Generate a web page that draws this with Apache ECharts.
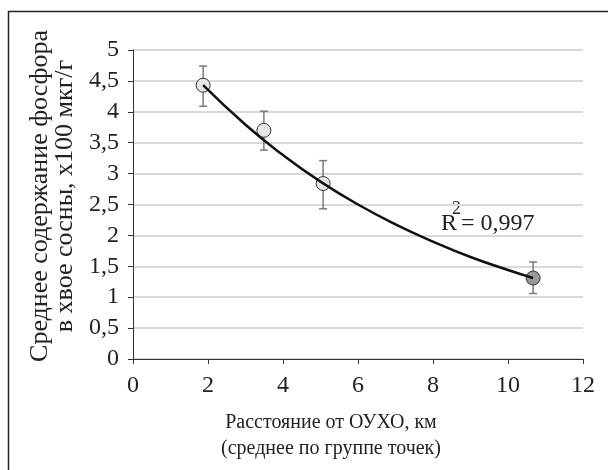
<!DOCTYPE html>
<html>
<head>
<meta charset="utf-8">
<script src="https://cdn.jsdelivr.net/npm/echarts@6/dist/echarts.min.js"></script>
<style>
html,body{margin:0;padding:0;background:#fff;}
#chart{width:608px;height:470px;}
</style>
</head>
<body>
<div id="chart"></div>
<script>
// Data
var distance = [1.87, 3.49, 5.07, 10.67];
var phosphorus = [4.43, 3.70, 2.84, 1.31];
var errLow = [4.09, 3.38, 2.43, 1.06];
var errHigh = [4.74, 4.01, 3.21, 1.57];
var pointFill = ['#e6e6e6', '#e6e6e6', '#e6e6e6', '#999999'];
var trendX = [1.87, 3, 4, 5, 6, 7, 8, 9, 10, 10.67];
var trendY = [4.43, 3.79, 3.30, 2.87, 2.50, 2.18, 1.90, 1.65, 1.44, 1.31];
var xTicks = [0, 2, 4, 6, 8, 10, 12];
var yTicks = [0, 0.5, 1, 1.5, 2, 2.5, 3, 3.5, 4, 4.5, 5];
var xTitle = ['Расстояние от ОУХО, км', '(среднее по группе точек)'];
var yTitle = ['Среднее содержание фосфора', 'в хвое сосны, х100 мкг/г'];
var r2Text = '= 0,997';

var FONT = '"Liberation Serif", "DejaVu Serif", serif';

var chart = echarts.init(document.getElementById('chart'));

var scatterData = distance.map(function (x, i) {
  return { value: [x, phosphorus[i]], itemStyle: { color: pointFill[i] } };
});
var errData = distance.map(function (x, i) { return [x, errLow[i], errHigh[i]]; });
var trendData = trendX.map(function (x, i) { return [x, trendY[i]]; });

var option = {
  animation: false,
  backgroundColor: '#fff',
  grid: { left: 133, right: 25, top: 50, bottom: 111, containLabel: false },
  xAxis: {
    type: 'value', min: xTicks[0], max: xTicks[xTicks.length - 1], interval: 2,
    axisLine: { lineStyle: { color: '#333', width: 1 } },
    axisTick: { show: true, length: 5, lineStyle: { color: '#333' } },
    axisLabel: { fontFamily: FONT, fontSize: 24, color: '#222', margin: 15 },
    splitLine: { show: false }
  },
  yAxis: {
    type: 'value', min: yTicks[0], max: yTicks[yTicks.length - 1], interval: 0.5,
    axisLine: { show: true, lineStyle: { color: '#333', width: 1 } },
    axisTick: { show: true, length: 5, lineStyle: { color: '#333' } },
    axisLabel: {
      fontFamily: FONT, fontSize: 24, color: '#222', margin: 14,
      formatter: function (v) { return String(v).replace('.', ','); }
    },
    splitLine: { show: true, lineStyle: { color: '#d9d9d9', width: 2 } }
  },
  series: [
    {
      type: 'custom',
      z: 1,
      data: errData,
      renderItem: function (params, api) {
        var x = api.value(0);
        var lo = api.coord([x, api.value(1)]);
        var hi = api.coord([x, api.value(2)]);
        var cw = 4;
        var st = { stroke: '#7a7a7a', lineWidth: 1.5 };
        return {
          type: 'group',
          children: [
            { type: 'line', shape: { x1: lo[0], y1: lo[1], x2: hi[0], y2: hi[1] }, style: st },
            { type: 'line', shape: { x1: lo[0] - cw, y1: lo[1], x2: lo[0] + cw, y2: lo[1] }, style: st },
            { type: 'line', shape: { x1: hi[0] - cw, y1: hi[1], x2: hi[0] + cw, y2: hi[1] }, style: st }
          ]
        };
      }
    },
    {
      type: 'scatter',
      z: 2,
      symbol: 'circle',
      symbolSize: 14,
      itemStyle: { borderColor: '#333', borderWidth: 1, opacity: 1 },
      data: scatterData
    },
    {
      type: 'line',
      z: 3,
      smooth: true,
      showSymbol: false,
      symbol: 'none',
      lineStyle: { color: '#111', width: 2.5 },
      data: trendData
    }
  ],
  graphic: [
    {
      type: 'rect', silent: true,
      shape: { x: 8.5, y: 11.5, width: 700, height: 600 },
      style: { fill: 'none', stroke: '#222', lineWidth: 1.5 }
    },
    {
      type: 'text', silent: true,
      x: 331, y: 436,
      style: {
        text: xTitle.join('\n'), fontFamily: FONT, fontSize: 20, fill: '#222',
        textAlign: 'center', textVerticalAlign: 'middle', lineHeight: 26
      }
    },
    {
      type: 'text', silent: true,
      x: 53, y: 196, rotation: Math.PI / 2,
      style: {
        text: yTitle.join('\n'), fontFamily: FONT, fontSize: 26, fill: '#222',
        textAlign: 'center', textVerticalAlign: 'middle', lineHeight: 25
      }
    },
    {
      type: 'text', silent: true,
      x: 441, y: 224,
      style: { text: 'R', fontFamily: FONT, fontSize: 24, fill: '#222', textVerticalAlign: 'middle' }
    },
    {
      type: 'text', silent: true,
      x: 452, y: 209,
      style: { text: '2', fontFamily: FONT, fontSize: 18, fill: '#222', textVerticalAlign: 'middle' }
    },
    {
      type: 'text', silent: true,
      x: 461, y: 224,
      style: { text: r2Text, fontFamily: FONT, fontSize: 24, fill: '#222', textVerticalAlign: 'middle' }
    }
  ]
};
chart.setOption(option);
</script>
</body>
</html>
